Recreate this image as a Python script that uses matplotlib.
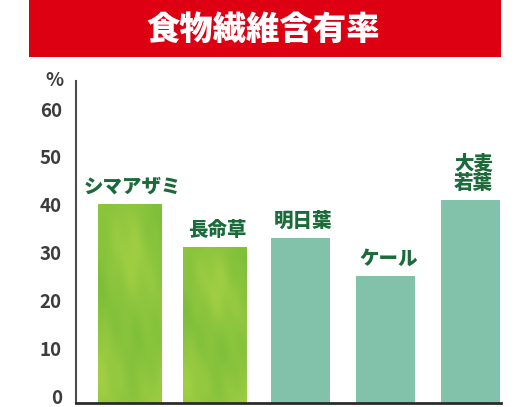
import matplotlib
matplotlib.use('Agg')
import matplotlib.pyplot as plt
import matplotlib.patches as mpatches
import matplotlib.transforms as mtransforms
from matplotlib.colors import LinearSegmentedColormap
import numpy as np

plt.rcParams['font.family'] = ['Noto Sans CJK JP', 'DejaVu Sans']

# ── Data ──────────────────────────────────────────────
labels = ['シマアザミ', '長命草', '明日葉', 'ケール', '大麦\n若葉']
values = [41.6, 32.6, 34.4, 26.4, 42.4]
yticks = [0, 10, 20, 30, 40, 50, 60]
title = '食物繊維含有率'
unit = '%'

# ── Style ─────────────────────────────────────────────
W, H = 530, 407
RED = '#dc0012'
TEAL = '#82c2ab'
LABEL_GREEN = '#1b6b3a'
TICK_CLR = '#3c3c3c'
textured = [True, True, False, False, False]
widths = [0.75, 0.74, 0.69, 0.69, 0.69]
leaf_cmap = LinearSegmentedColormap.from_list(
    'leaf', ['#74bb36', '#86c23c', '#95c940', '#a6d145'])

fig = plt.figure(figsize=(W / 100, H / 100), dpi=100)
fig.patch.set_facecolor('white')

# title band
fig.patches.append(mpatches.Rectangle((29 / W, 1 - 57 / H), 472 / W, 57 / H,
                                      transform=fig.transFigure,
                                      facecolor=RED, edgecolor='none'))
fig.text(263 / W, 1 - 29 / H, title, ha='center', va='center',
         color='white', fontsize=24, fontweight='heavy')

ax = fig.add_axes([75.7 / W, 4.5 / H, (501 - 75.7) / W, (402.5 - 80.7) / H])
x = np.arange(len(values))
bars = ax.bar(x, values, width=widths, color=TEAL, edgecolor='none', zorder=2)

# soft watercolour-like texture for the first two bars
yy, xx = np.mgrid[0:1:240j, 0:1:60j]
pattern = (0.5 + 0.18 * np.sin(xx * 6.5 + 1.3) * np.cos(yy * 4.0)
           + 0.14 * np.sin(yy * 9 + xx * 2.5)
           + 0.08 * np.sin(xx * 19 + yy * 7) * np.sin(yy * 13))
for bar, tex in zip(bars, textured):
    if not tex:
        continue
    bar.set_facecolor('#8cc63e')
    x0, w = bar.get_x(), bar.get_width()
    img = ax.imshow(pattern, cmap=leaf_cmap, aspect='auto', origin='lower',
                    extent=(x0, x0 + w, 0, bar.get_height()), zorder=3,
                    vmin=0.05, vmax=0.95, interpolation='bicubic')
    img.set_clip_path(bar)

for bar, lab in zip(bars, labels):
    ax.annotate(lab, (bar.get_x() + bar.get_width() / 2, bar.get_height()),
                xytext=(2, 5), textcoords='offset points', ha='center',
                va='bottom', color=LABEL_GREEN, fontsize=14,
                fontweight='heavy', linespacing=1.0)

ax.set_xlim(-0.633, 4.353)
ax.set_ylim(0, 67.3)
ax.set_xticks([])
ax.set_yticks(yticks)
ax.set_yticklabels([str(t) for t in yticks], fontsize=13.5,
                   fontweight='bold', color=TICK_CLR)
ax.tick_params(axis='y', length=0, pad=10)
offset = mtransforms.ScaledTranslation(0, 6.5 / 100, fig.dpi_scale_trans)
for t in ax.get_yticklabels():
    t.set_transform(t.get_transform() + offset)

ax.text(-0.049, 1.0, unit, transform=ax.transAxes, ha='center', va='center',
        fontsize=13.5, fontweight='bold', color=TICK_CLR)

for s in ['top', 'right']:
    ax.spines[s].set_visible(False)
ax.spines['left'].set_color('#4d4d4d')
ax.spines['left'].set_linewidth(1.5)
ax.spines['bottom'].set_color('#2b2b2b')
ax.spines['bottom'].set_linewidth(2)
ax.spines['bottom'].set_zorder(5)

fig.savefig('out.png', dpi=100, facecolor='white')
